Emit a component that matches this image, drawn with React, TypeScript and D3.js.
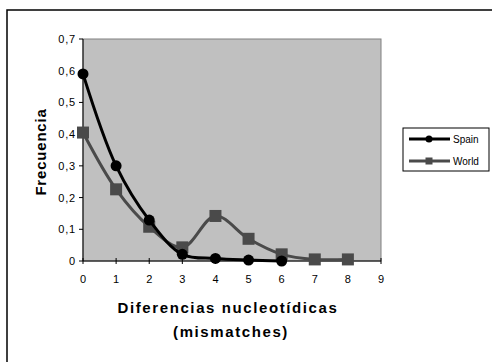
import React from "react";
import * as d3 from "d3";

// Mismatch distribution: pairwise nucleotide differences
const mismatches = [0, 1, 2, 3, 4, 5, 6, 7, 8];
const spainFreq = [0.59, 0.3, 0.129, 0.021, 0.008, 0.003, 0.0];
const worldFreq = [0.405, 0.226, 0.108, 0.043, 0.142, 0.07, 0.021, 0.005, 0.005];
const xTicks = [0, 1, 2, 3, 4, 5, 6, 7, 8, 9];
const yTicks = [0, 0.1, 0.2, 0.3, 0.4, 0.5, 0.6, 0.7];
const seriesNames = ["Spain", "World"];

const W = 492;
const H = 362;
const plot = { left: 83, right: 381, top: 39, bottom: 261 };
const FONT = "'Liberation Sans', Arial, sans-serif";

export default function App() {
  const x = d3.scaleLinear().domain([0, 9]).range([plot.left, plot.right]);
  const y = d3.scaleLinear().domain([0, 0.7]).range([plot.bottom, plot.top]);
  const fmt = (v: number) => (v === 0 ? "0" : d3.format(".1f")(v).replace(".", ","));

  const line = d3
    .line<number>()
    .x((_, i) => x(mismatches[i]))
    .y((d) => y(d))
    .curve(d3.curveCatmullRom.alpha(0.5));

  const spainColor = "#000000";
  const worldColor = "#4a4a4a";

  return (
    <svg
      width={W}
      height={H}
      style={{ position: "absolute", left: 0, top: 0, background: "#fff" }}
      fontFamily={FONT}
    >
      {/* chart area frame */}
      <rect x={7} y={10} width={520} height={400} fill="#fff" stroke="#000" strokeWidth={1.5} />

      {/* plot area */}
      <rect
        x={plot.left}
        y={plot.top}
        width={plot.right - plot.left}
        height={plot.bottom - plot.top}
        fill="#c0c0c0"
        stroke="#808080"
        strokeWidth={1}
      />

      {/* axes */}
      <line x1={plot.left} x2={plot.left} y1={plot.top} y2={plot.bottom} stroke="#000" strokeWidth={1} />
      <line x1={plot.left} x2={plot.right} y1={plot.bottom} y2={plot.bottom} stroke="#000" strokeWidth={1} />

      {yTicks.map((t) => (
        <g key={"y" + t}>
          <line x1={plot.left - 4} x2={plot.left} y1={y(t)} y2={y(t)} stroke="#000" />
          <text x={plot.left - 7} y={y(t) + 4} fontSize={11} letterSpacing={0.8} textAnchor="end" fill="#000">
            {fmt(t)}
          </text>
        </g>
      ))}
      {xTicks.map((t) => (
        <g key={"x" + t}>
          <line x1={x(t)} x2={x(t)} y1={plot.bottom - 3} y2={plot.bottom + 3} stroke="#000" />
          <text x={x(t)} y={plot.bottom + 22} fontSize={11} textAnchor="middle" fill="#000">
            {t}
          </text>
        </g>
      ))}

      {/* World series */}
      <path d={line(worldFreq) || ""} fill="none" stroke={worldColor} strokeWidth={3} />
      {worldFreq.map((v, i) => (
        <rect
          key={"w" + i}
          x={x(mismatches[i]) - 6}
          y={y(v) - 6}
          width={12}
          height={12}
          fill={worldColor}
        />
      ))}

      {/* Spain series */}
      <path d={line(spainFreq) || ""} fill="none" stroke={spainColor} strokeWidth={3} />
      {spainFreq.map((v, i) => (
        <circle key={"s" + i} cx={x(mismatches[i])} cy={y(v)} r={5.5} fill={spainColor} />
      ))}

      {/* axis titles */}
      <text
        transform={`translate(46,152) rotate(-90)`}
        fontSize={15}
        fontWeight="bold"
        textAnchor="middle"
        letterSpacing={0.8}
        fill="#000"
      >
        Frecuencia
      </text>
      <text x={228} y={313} fontSize={15} fontWeight="bold" textAnchor="middle" letterSpacing={1.6} fill="#000">
        Diferencias nucleotídicas
      </text>
      <text x={231} y={337} fontSize={15} fontWeight="bold" textAnchor="middle" letterSpacing={1.6} fill="#000">
        (mismatches)
      </text>

      {/* legend */}
      <rect x={403} y={128} width={86} height={43} fill="#fff" stroke="#000" strokeWidth={1} />
      {seriesNames.map((name, i) => {
        const ly = 139 + i * 22;
        const c = i === 0 ? spainColor : worldColor;
        return (
          <g key={name}>
            <line x1={409} x2={450} y1={ly} y2={ly} stroke={c} strokeWidth={3} />
            {i === 0 ? (
              <circle cx={429} cy={ly} r={3.5} fill={c} />
            ) : (
              <rect x={425.5} y={ly - 3.5} width={7} height={7} fill={c} />
            )}
            <text x={453} y={ly + 3.5} fontSize={10} fill="#000">
              {name}
            </text>
          </g>
        );
      })}
    </svg>
  );
}
